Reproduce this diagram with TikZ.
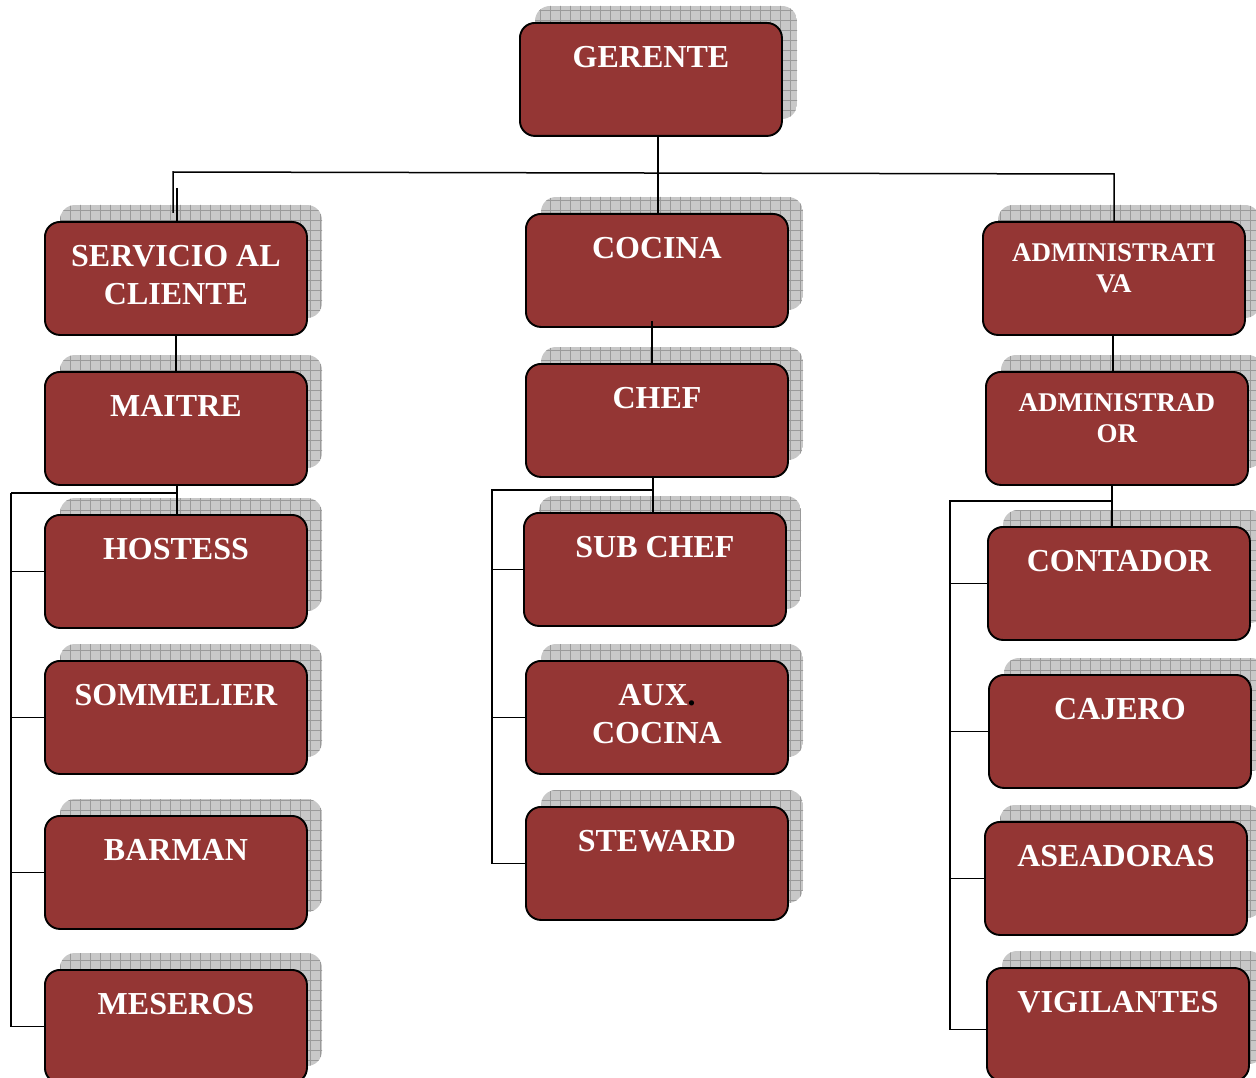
\documentclass[tikz,border=0pt]{standalone}
\usepackage{fontspec}
\setmainfont{Liberation Serif}
\definecolor{boxred}{HTML}{943634}
\definecolor{shadowfill}{HTML}{C8C8C8}
\definecolor{gridline}{HTML}{9A9A9A}
\tikzset{
  orgbox/.style={draw=black, line width=1.9pt, fill=boxred, rounded corners=15pt,
    minimum width=262pt, minimum height=113pt, inner sep=0pt, anchor=north west},
  bigtxt/.style={font=\bfseries\fontsize{32}{37.5}\selectfont, yshift=-24.5pt},
  smalltxt/.style={font=\bfseries\fontsize{27}{31}\selectfont, yshift=-22.5pt},
  boxlabel/.style={text=white, align=center, inner sep=0pt, anchor=north},
  conn/.style={draw=black, line width=1.5pt}
}
% #1 name, #2 left x, #3 top y, #4 text, #5 text style
\newcommand\orgunit[5]{%
  \begin{scope}
    \clip[rounded corners=15pt] (#2+16,#3-16) rectangle ++(262,113);
    \fill[shadowfill] (#2+16,#3-16) rectangle ++(262,113);
    \draw[gridline, line width=0.6pt, step=10pt] (#2+10,#3-20) grid ++(275,120);
  \end{scope}
  \node[orgbox] (#1) at (#2,#3) {};
  \node[boxlabel,#5] (#1-t) at (#1.north) {#4};
}
\begin{document}
\begin{tikzpicture}[x=1pt,y=-1pt]
\clip (0,0) rectangle (1256,1078);
\fill[white] (0,0) rectangle (1256,1078);

\orgunit{ger}{519}{22}{GERENTE}{bigtxt}
\orgunit{sc}{44}{221}{SERVICIO AL\\CLIENTE}{bigtxt}
\orgunit{coc}{525}{213}{COCINA}{bigtxt}
\orgunit{adm}{982}{221}{ADMINISTRATI\\VA}{smalltxt}
\orgunit{mai}{44}{371}{MAITRE}{bigtxt}
\orgunit{chef}{525}{363}{CHEF}{bigtxt}
\orgunit{admr}{985}{371}{ADMINISTRAD\\OR}{smalltxt}
\orgunit{hos}{44}{514}{HOSTESS}{bigtxt}
\orgunit{sub}{523}{512}{SUB CHEF}{bigtxt}
\orgunit{con}{987}{526}{CONTADOR}{bigtxt}
\orgunit{som}{44}{660}{SOMMELIER}{bigtxt}
\orgunit{aux}{525}{660}{AUX{\color{black}.}\\COCINA}{bigtxt}
\orgunit{caj}{988}{674}{CAJERO}{bigtxt}
\orgunit{bar}{44}{815}{BARMAN}{bigtxt}
\orgunit{ste}{525}{806}{STEWARD}{bigtxt}
\orgunit{ase}{984}{821}{ASEADORAS}{bigtxt}
\orgunit{mes}{44}{969}{MESEROS}{bigtxt}
\orgunit{vig}{986}{967}{VIGILANTES}{bigtxt}

% top level
\coordinate (gj) at (658,173);
\coordinate (tl) at (173,172);
\coordinate (tr) at (1114,174);
\coordinate (tlend) at (173,213);
\coordinate (scstub) at (177,188);
\draw[conn] (ger.south -| gj) -- (gj) -- (gj |- coc.north);
\draw[conn] (tlend) -- (tl) -- (tr) -- (tr |- adm.north);
\draw[conn] (scstub) -- (scstub |- sc.north);

% second level
\coordinate (cj) at (652,321);
\coordinate (aj) at (1113,334);
\draw[conn] (sc.south) -- (mai.north);
\draw[conn] (cj) -- (cj |- chef.north);
\draw[conn] (adm.south -| aj) -- (aj |- admr.north);

% left group
\coordinate (lg) at (177,493);
\coordinate (lgl) at (11,493);
\draw[conn] (mai.south -| lg) -- (lg |- hos.north);
\draw[conn, line width=2.2pt] (lg) -- (lgl);
\draw[conn] (lgl) -- (lgl |- mes.west) -- (mes.west);
\draw[conn] (lgl |- hos.west) -- (hos.west);
\draw[conn] (lgl |- som.west) -- (som.west);
\draw[conn] (lgl |- bar.west) -- (bar.west);

% middle group
\coordinate (mg) at (653,490);
\coordinate (mgl) at (492,490);
\draw[conn] (chef.south -| mg) -- (mg |- sub.north);
\draw[conn] (mg) -- (mgl) -- (mgl |- ste.west) -- (ste.west);
\draw[conn] (mgl |- sub.west) -- (sub.west);
\draw[conn] (mgl |- aux.west) -- (aux.west);

% right group
\coordinate (rg) at (1112,501);
\coordinate (rgl) at (950,501);
\coordinate (vigw) at ([yshift=-5pt]vig.west);
\draw[conn] (admr.south -| rg) -- (rg |- con.north);
\draw[conn] (rg) -- (rgl) -- (rgl |- vigw) -- (vigw);
\draw[conn] (rgl |- con.west) -- (con.west);
\draw[conn] (rgl |- caj.west) -- (caj.west);
\draw[conn] (rgl |- ase.west) -- (ase.west);
\end{tikzpicture}
\end{document}
